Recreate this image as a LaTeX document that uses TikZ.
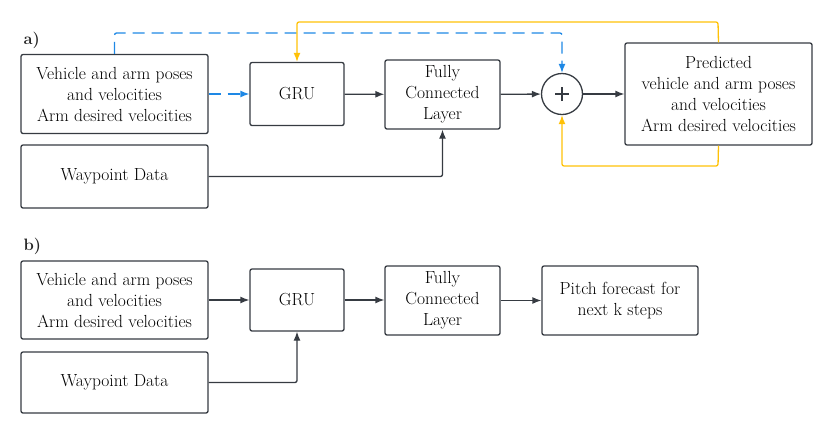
\documentclass[tikz,border=0pt]{standalone}
\usetikzlibrary{arrows.meta}

\definecolor{boxline}{HTML}{363B42}
\definecolor{fbblue}{HTML}{1E88E5}
\definecolor{fbyellow}{HTML}{FFC107}

\tikzset{
	blk/.style={draw=boxline, line width=1.3pt, rounded corners=2pt, align=center, inner sep=0pt, text=black},
	conn/.style={draw=boxline, line width=1.3pt, rounded corners=2pt, -{Latex[length=9pt,width=7pt]}},
	skipline/.style={conn, draw=fbblue, dash pattern=on 12pt off 7pt},
	fbline/.style={conn, draw=fbyellow},
}

\begin{document}
\begin{tikzpicture}[x=1pt, y=-1pt, font=\fontsize{17.5}{21}\selectfont]
		\useasboundingbox (0,0) rectangle (831,432);
		
		% a) model with residual
		\node[anchor=west, font=\fontsize{16.5}{18}\bfseries\selectfont, text=black!85] (laba) at (20,40) {a)};
		\node[blk, minimum width=187pt, minimum height=79pt] (veha) at (114.5,94) {Vehicle and arm poses\\and velocities\\Arm desired velocities};
		\node[blk, minimum width=187pt, minimum height=63pt] (wpa) at (114.5,176.5) {Waypoint Data};
		\node[blk, minimum width=94pt, minimum height=63pt] (grua) at (297,94) {GRU};
		\node[blk, minimum width=115pt, minimum height=69pt] (fca) at (442.5,94.5) {Fully\\Connected\\Layer};
		\node[draw=boxline, line width=1.3pt, circle, minimum size=41pt, inner sep=0pt] (suma) at (562,94) {};
		\node[blk, minimum width=187pt, minimum height=102pt] (preda) at (718.5,94) {Predicted\\vehicle and arm poses\\and velocities\\Arm desired velocities};
		
		% plus sign
		\draw[boxline, line width=1.1pt] ([xshift=-7pt]suma.center) -- ([xshift=7pt]suma.center);
		\draw[boxline, line width=1.1pt] ([yshift=-7pt]suma.center) -- ([yshift=7pt]suma.center);
		
		\draw[conn] (grua) -- (fca);
		\draw[conn] (fca) -- (suma);
		\draw[conn] (suma) -- (preda);
		\draw[conn] (wpa.east) -| (fca.south);
		
		% skip connection
		\coordinate (skiptop) at (562,33);
		\draw[skipline] (veha.east) -- (grua.west);
		\draw[skipline] (veha.north) |- (skiptop) -- (suma.north);
		
		% feedback
		\coordinate (fbtop) at (718,22);
		\coordinate (fbbot) at (718,166);
		\draw[fbline] (preda.north) -- (fbtop) -| (grua.north);
		\draw[fbline] (preda.south) -- (fbbot) -| (suma.south);
		
		% b) pitch forecast
		\node[anchor=west, font=\fontsize{16.5}{18}\bfseries\selectfont, text=black!85] (labb) at (20,246) {b)};
		\node[blk, minimum width=187pt, minimum height=78pt] (vehb) at (114.5,300) {Vehicle and arm poses\\and velocities\\Arm desired velocities};
		\node[blk, minimum width=187pt, minimum height=61pt] (wpb) at (114.5,382.5) {Waypoint Data};
		\node[blk, minimum width=94pt, minimum height=62pt] (grub) at (297,300) {GRU};
		\node[blk, minimum width=115pt, minimum height=69pt] (fcb) at (442.5,300.5) {Fully\\Connected\\Layer};
		\node[blk, minimum width=156pt, minimum height=69pt] (pitchb) at (620,300.5) {Pitch forecast for\\next k steps};
		
		\draw[conn] (vehb.east) -- (grub.west);
		\draw[conn] (grub.east) -- (fcb.west |- grub.east);
		\draw[conn] (fcb.east) -- (pitchb.west);
		\draw[conn] (wpb.east) -| (grub.south);
		
\end{tikzpicture}
\end{document}
